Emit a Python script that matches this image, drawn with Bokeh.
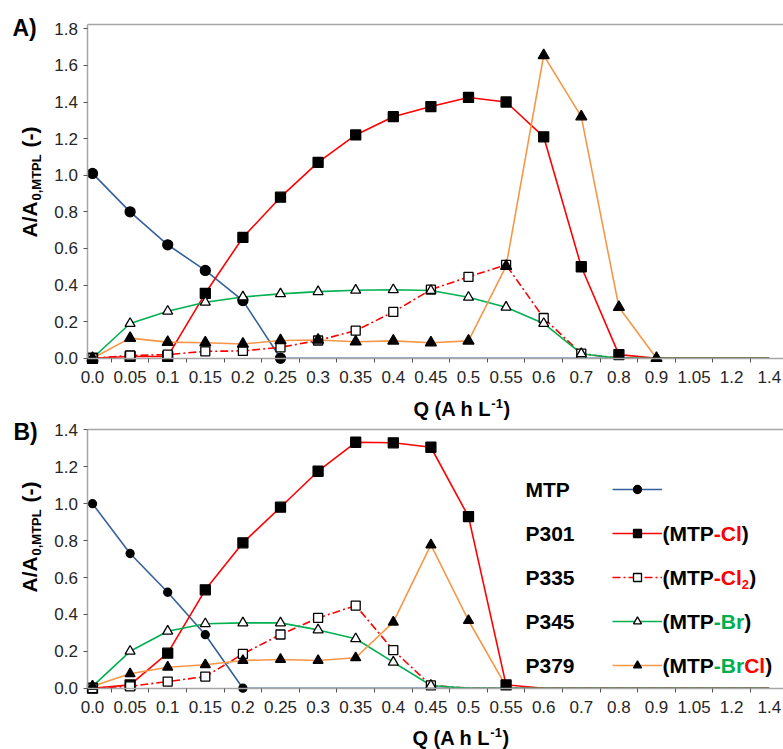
import numpy as np
from bokeh.plotting import figure
from bokeh.models import (Range1d, FixedTicker, PrintfTickFormatter, Label,
                          Legend, LegendItem, LinearAxis)
from bokeh.layouts import column
from bokeh.embed import file_html
from bokeh.resources import INLINE

# ---------------- data ----------------
cats = ["0.0", "0.05", "0.1", "0.15", "0.2", "0.25", "0.3", "0.35", "0.4", "0.45",
        "0.5", "0.55", "0.6", "0.7", "0.8", "0.9", "1.05", "1.2", "1.4"]

# Panel A
mtp_a  = [1.01, 0.80, 0.62, 0.48, 0.315, 0.0, 0, 0, 0, 0, 0, 0, 0, 0, 0, 0, 0, 0, 0]
p301_a = [0.0, 0.01, 0.01, 0.355, 0.66, 0.88, 1.07, 1.22, 1.32, 1.375, 1.425, 1.40, 1.21, 0.50, 0.02, 0, 0, 0, 0]
p335_a = [0.0, 0.015, 0.02, 0.038, 0.04, 0.06, 0.097, 0.151, 0.253, 0.375, 0.445, 0.51, 0.22, 0.025, 0, 0, 0, 0, 0]
p345_a = [0.0, 0.19, 0.257, 0.306, 0.335, 0.352, 0.364, 0.372, 0.374, 0.37, 0.333, 0.279, 0.19, 0.025, 0, 0, 0, 0, 0]
p379_a = [0.0, 0.11, 0.088, 0.085, 0.078, 0.097, 0.1, 0.09, 0.095, 0.085, 0.095, 0.503, 1.655, 1.32, 0.279, 0.0, 0, 0, 0]
marked_a = [6, 15, 14, 14, 16]     # number of measured points carrying a marker
drawn_a  = [19, 19, 19, 19, 16]    # number of points joined by the line

# Panel B
mtp_b  = [1.0, 0.73, 0.52, 0.29, 0.0, 0, 0, 0, 0, 0, 0, 0, 0, 0, 0, 0, 0, 0, 0]
p301_b = [0.0, 0.018, 0.19, 0.533, 0.788, 0.981, 1.176, 1.333, 1.33, 1.306, 0.93, 0.018, 0, 0, 0, 0, 0, 0, 0]
p335_b = [0.0, 0.01, 0.036, 0.063, 0.186, 0.291, 0.381, 0.448, 0.206, 0.015, 0, 0, 0, 0, 0, 0, 0, 0, 0]
p345_b = [0.01, 0.2, 0.309, 0.349, 0.354, 0.354, 0.316, 0.268, 0.141, 0.015, 0, 0, 0, 0, 0, 0, 0, 0, 0]
p379_b = [0.01, 0.078, 0.114, 0.127, 0.15, 0.156, 0.15, 0.165, 0.358, 0.777, 0.367, 0.01, 0, 0, 0, 0, 0, 0, 0]
marked_b = [5, 12, 10, 10, 12]
drawn_b  = [19, 19, 19, 19, 12]

series_names = ["MTP", "P301", "P335", "P345", "P379"]
yticks_a = [0.0, 0.2, 0.4, 0.6, 0.8, 1.0, 1.2, 1.4, 1.6, 1.8]
yticks_b = [0.0, 0.2, 0.4, 0.6, 0.8, 1.0, 1.2, 1.4]

# ---------------- styles ----------------
FONT = "Liberation Sans"
GREY = "#A6A6A6"
BLUE = "#35609A"
RED = "#FF0000"
GREEN = "#00B050"
ORANGE = "#F79646"
styles = [
    dict(color=BLUE, dash="solid", marker="circle", fill="black"),
    dict(color=RED, dash="solid", marker="square", fill="black"),
    dict(color=RED, dash="8 3 2 3", marker="square", fill="white"),
    dict(color=GREEN, dash="solid", marker="triangle", fill="white"),
    dict(color=ORANGE, dash="solid", marker="triangle", fill="black"),
]

x_idx = list(range(len(cats)))
W_TOTAL = 783
X_AXIS_POS = -0.12               # category units: where the value axis sits
X_LO, X_HI = -2.447, 18.378      # full canvas in category units


def lab(p, x, y, text, size, color="black", angle=0.0, style="bold"):
    p.add_layout(Label(x=x, y=y, x_units="screen", y_units="screen", text=text,
                       text_font=FONT, text_font_size=f"{size}px", text_font_style=style,
                       text_color=color, angle=angle, text_align="left",
                       text_baseline="middle"))


def make_panel(data, marked, drawn, y_lo, y_hi, y_top, y_ticks, height, sizes):
    p = figure(width=W_TOTAL, height=height, output_backend="svg", toolbar_location=None,
               x_range=Range1d(X_LO, X_HI), y_range=Range1d(y_lo, y_hi),
               x_axis_type=None, y_axis_type=None, min_border=0)
    p.outline_line_color = None

    xax = LinearAxis(fixed_location=0, bounds=(X_AXIS_POS, X_HI))
    xax.ticker = FixedTicker(ticks=x_idx, minor_ticks=[i + 0.5 for i in x_idx[:-1]])
    xax.major_label_overrides = {i: c for i, c in enumerate(cats)}
    xax.major_tick_out = 0
    xax.major_tick_in = 0
    xax.minor_tick_out = 4
    xax.minor_tick_in = 0
    xax.minor_tick_line_color = "#555555"
    xax.major_label_standoff = 9

    yax = LinearAxis(fixed_location=X_AXIS_POS, bounds=(0, y_top))
    yax.ticker = FixedTicker(ticks=y_ticks)
    yax.formatter = PrintfTickFormatter(format="%.1f")
    yax.major_tick_out = 4
    yax.major_tick_in = 0
    yax.minor_tick_line_color = None
    yax.major_label_standoff = 6
    yax.major_tick_line_color = "#555555"

    top = LinearAxis(fixed_location=y_top, bounds=(X_AXIS_POS, X_HI))
    top.ticker = FixedTicker(ticks=[])
    top.major_tick_line_color = None
    top.minor_tick_line_color = None
    top.major_label_text_alpha = 0

    for ax in (xax, yax, top):
        ax.axis_line_color = GREY
        ax.axis_line_width = 1.5
        ax.major_label_text_font = FONT
        ax.major_label_text_font_size = "17px"
        ax.major_label_text_color = "#262626"
    p.add_layout(xax, "below")
    p.add_layout(yax, "left")
    p.add_layout(top, "above")

    lines, marks = [], []
    for vals, st, nd in zip(data, styles, drawn):
        lr = p.line(x_idx[:nd], vals[:nd], line_color=st["color"], line_width=1.6,
                    line_dash=st["dash"])
        lines.append(lr)
    for vals, st, nm, sz in zip(data, styles, marked, sizes):
        sr = p.scatter(x_idx[:nm], vals[:nm], marker=st["marker"], size=sz,
                       fill_color=st["fill"], line_color="black", line_width=1.3)
        marks.append(sr)
    return p, lines, marks


HA, HB = 420, 329
pa, la, ma = make_panel([mtp_a, p301_a, p335_a, p345_a, p379_a], marked_a, drawn_a,
                        -0.340, 1.9546, 1.8235, yticks_a, HA, [10, 10, 9, 10, 11])
pb, lb, mb = make_panel([mtp_b, p301_b, p335_b, p345_b, p379_b], marked_b, drawn_b,
                        -0.3322, 1.451, 1.4, yticks_b, HB, [8, 10, 9, 10, 10])

# panel letters
lab(pa, 12, 393, "A)", 23)
lab(pb, 13, 318, "B)", 23)

# rotated y titles
for p, y0 in ((pa, 183), (pb, 157)):
    lab(p, 28.5, y0, "A/A", 21, angle=np.pi / 2)
    lab(p, 36, y0 + 37, "0,MTPL", 13, angle=np.pi / 2)
    lab(p, 28.5, y0 + 90, "(-)", 21, angle=np.pi / 2)

# x titles
for p, x0 in ((pa, 413), (pb, 412)):
    lab(p, x0, 12, "Q (A h L", 20)
    lab(p, x0 + 77.8, 17, "-1", 13)
    lab(p, x0 + 90, 12, ")", 20)

# legend of panel B: glyph samples
items = [LegendItem(label=" ", renderers=[l, m]) for l, m in zip(lb, mb)]
leg = Legend(items=items, location=(612, 74), glyph_width=50, glyph_height=20,
             spacing=24, padding=0, margin=0, border_line_color=None,
             background_fill_alpha=0, label_text_font_size="1px", label_standoff=0,
             label_width=1, label_height=20)
pb.add_layout(leg)

# legend texts
row_c = [260, 216, 172, 128, 84]
for nm, yc in zip(series_names, row_c):
    lab(pb, 525, yc, nm, 21)
W = 21
x1 = 662
x2 = x1 + 2.444 * W          # after "(MTP"
lab(pb, x1, row_c[1], "(MTP", W)
lab(pb, x2, row_c[1], "-Cl", W, color=RED)
lab(pb, x2 + 1.333 * W, row_c[1], ")", W)
lab(pb, x1, row_c[2], "(MTP", W)
lab(pb, x2, row_c[2], "-Cl", W, color=RED)
lab(pb, x2 + 1.333 * W, row_c[2] - 7, "2", 13, color=RED)
lab(pb, x2 + 1.333 * W + 7.5, row_c[2], ")", W)
lab(pb, x1, row_c[3], "(MTP", W)
lab(pb, x2, row_c[3], "-Br", W, color=GREEN)
lab(pb, x2 + 1.444 * W, row_c[3], ")", W)
lab(pb, x1, row_c[4], "(MTP", W)
lab(pb, x2, row_c[4], "-Br", W, color=GREEN)
lab(pb, x2 + 1.444 * W, row_c[4], "Cl", W, color=RED)
lab(pb, x2 + 2.444 * W, row_c[4], ")", W)

layout = column(pa, pb, spacing=0)
open("out.html", "w").write(file_html(layout, INLINE))
